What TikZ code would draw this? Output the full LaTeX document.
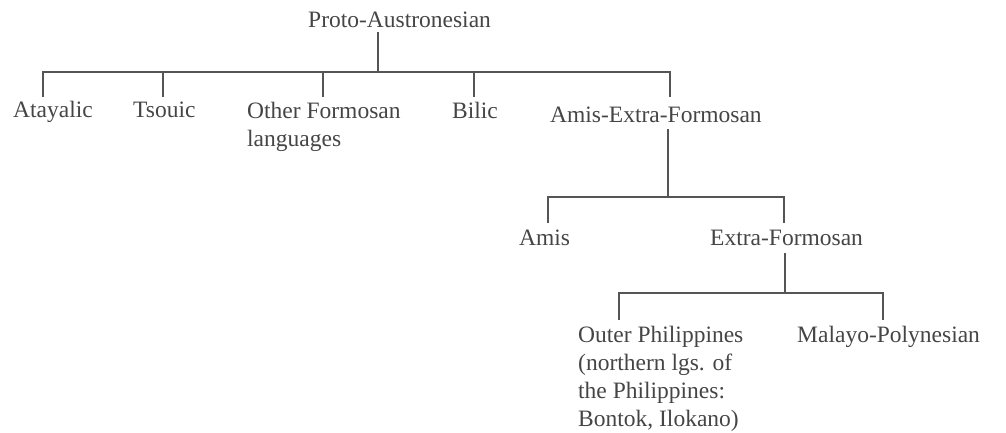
\documentclass[tikz,border=0pt]{standalone}
\usepackage{fontspec}
\setmainfont{Liberation Serif}
\definecolor{inkline}{HTML}{555555}
\definecolor{inktext}{HTML}{454545}
\begin{document}
\begin{tikzpicture}[x=1pt,y=-1pt,
  lang/.style={anchor=base west,inner sep=0pt,text=inktext,align=left,
    font=\fontsize{23.5}{28.3}\selectfont},
  branch/.style={draw=inkline,line width=1.4pt}]
\useasboundingbox (0,0) rectangle (1006,432);
% nodes (multi-line nodes are placed by the baseline of their last line)
\node[lang] (pa) at (308,27) {Proto-Austronesian};
\node[lang] (atay) at (13,117) {Atayalic};
\node[lang] (tsou) at (133,117) {Tsouic};
\node[lang] (ofl) at (247,146.3) {Other Formosan\\languages};
\node[lang] (bil) at (452,118) {Bilic};
\node[lang] (aef) at (550,122) {Amis-Extra-Formosan};
\node[lang] (amis) at (519,245) {Amis};
\node[lang] (ef) at (710,245) {Extra-Formosan};
\node[lang] (op) at (578,426.9) {Outer Philippines\\(northern lgs. of\\the Philippines:\\Bontok, Ilokano)};
\node[lang] (mp) at (797,342) {Malayo-Polynesian};
% connector ends
\coordinate (pa-out) at (378,32);
\coordinate (pa-j) at (378,72);
\coordinate (atay-in) at (43,97);
\coordinate (tsou-in) at (163,97);
\coordinate (ofl-in) at (323,97);
\coordinate (bil-in) at (474,97);
\coordinate (aef-in) at (670,97);
\coordinate (aef-out) at (668,129);
\coordinate (aef-j) at (668,197);
\coordinate (amis-in) at (548,223);
\coordinate (ef-in) at (784,223);
\coordinate (ef-out) at (785,253);
\coordinate (ef-j) at (785,293);
\coordinate (op-in) at (619,320);
\coordinate (mp-in) at (883,320);
% level 1
\draw[branch] (pa-out) -- (pa-j);
\draw[branch] (atay-in) |- (pa-j) -| (aef-in);
\draw[branch] (tsou-in) -- (tsou-in |- pa-j);
\draw[branch] (ofl-in) -- (ofl-in |- pa-j);
\draw[branch] (bil-in) -- (bil-in |- pa-j);
% level 2
\draw[branch] (aef-out) -- (aef-j);
\draw[branch] (amis-in) |- (aef-j) -| (ef-in);
% level 3
\draw[branch] (ef-out) -- (ef-j);
\draw[branch] (op-in) |- (ef-j) -| (mp-in);
\end{tikzpicture}
\end{document}
